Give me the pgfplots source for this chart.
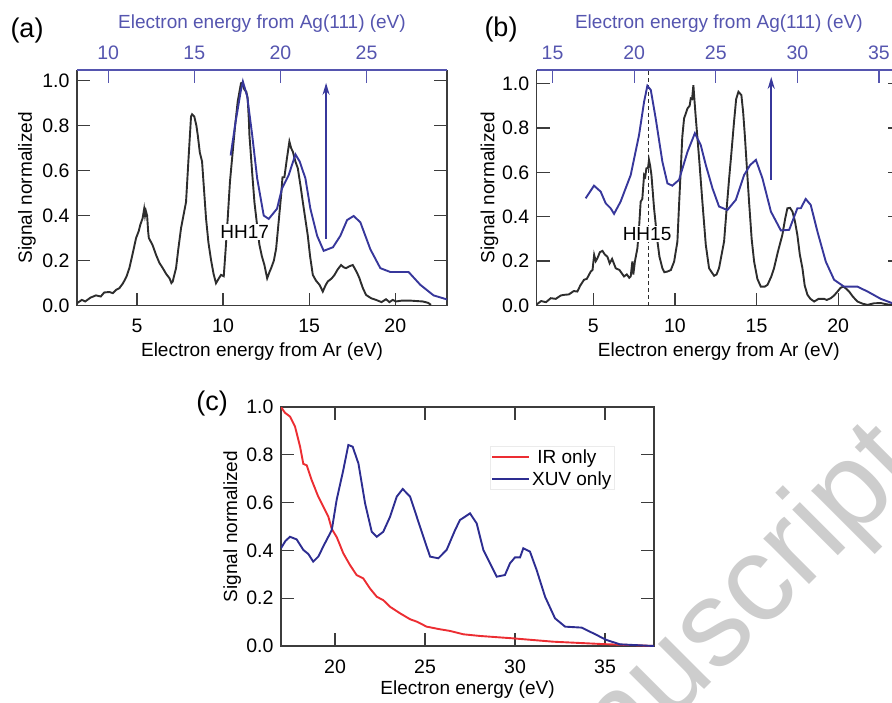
\documentclass[border=0pt]{standalone}
\usepackage{fontspec}
\setmainfont{Liberation Sans}
\usepackage{pgfplots}
\pgfplotsset{compat=1.18}
\usetikzlibrary{arrows.meta}

\definecolor{curveblack}{RGB}{45,45,45}
\definecolor{axisgray}{RGB}{60,60,60}
\definecolor{agblue}{RGB}{85,85,175}
\definecolor{curveblue}{RGB}{55,55,155}
\definecolor{xuvblue}{RGB}{45,45,145}
\definecolor{irred}{RGB}{236,45,50}
\definecolor{wmgray}{RGB}{205,205,205}

\newcommand{\fnt}{\fontsize{19}{22}\selectfont}
\newcommand{\tfnt}{\fontsize{19.5}{22}\selectfont}

\pgfplotsset{
  panel/.style={
    scale only axis,
    anchor=north west,
    tick align=inside,
    major tick length=13pt,
    axis line style={axisgray, line width=1.3pt},
    tick style={axisgray, line width=1.3pt},
    tick label style={font=\tfnt},
    label style={font=\fnt},
    xticklabel style={yshift=-10pt},
    /pgf/number format/assume math mode=true,
    ymin=0,
    ytick={0,0.2,0.4,0.6,0.8,1},
    yticklabel style={xshift=-4pt, /pgf/number format/fixed, /pgf/number format/fixed zerofill, /pgf/number format/precision=1},
  },
  agaxis/.style={
    scale only axis,
    anchor=north west,
    tick align=inside,
    major tick length=13pt,
    axis x line*=top,
    axis y line=none,
    ytick=\empty,
    ymin=0,
    axis line style={agblue, line width=1.1pt},
    tick style={agblue, line width=1.1pt},
    tick label style={font=\tfnt, text=agblue},
    xticklabel style={yshift=7pt},
    label style={font=\fnt, text=agblue},
    /pgf/number format/assume math mode=true,
  },
  blk/.style={curveblack, line width=1.9pt},
  blu/.style={curveblue, line width=1.9pt},
  arr/.style={curveblue, line width=2pt, -{Stealth[length=12pt, width=7pt]}},
  longlegend/.style={legend image code/.code={\draw[##1, line width=2pt] (0pt,0pt) -- (37pt,0pt);}},
}

\begin{document}
\begin{tikzpicture}
\useasboundingbox (0,0) rectangle (892pt,-702pt);

% watermark
\node[wmgray, rotate=45, anchor=base east, font=\fontsize{122}{122}\selectfont] at (926pt,-468pt) {Manuscript};

% ---------------- (a) ----------------
\begin{axis}[panel, at={(77pt,-70pt)}, width=370pt, height=235.5pt,
  xmin=1.52, xmax=23.0, ymax=1.047,
  axis x line*=bottom, axis y line*=box,
  xtick={5,10,15,20},
  xlabel={Electron energy from Ar (eV)},
  ylabel={Signal normalized},
  xlabel style={at={(axis description cs:0.5,-0.195)}, anchor=center},
  ylabel style={at={(axis description cs:-0.135,0.5)}, anchor=center},
]
\addplot[blk] coordinates {
(1.52,0.010) (1.8,0.025) (2.0,0.018) (2.3,0.035) (2.62,0.045) (2.9,0.040) (3.1,0.058)
(3.4,0.060) (3.6,0.055) (3.8,0.070) (3.98,0.077) (4.2,0.10) (4.4,0.13) (4.56,0.166)
(4.75,0.23) (4.95,0.30) (5.1,0.33) (5.2,0.36) (5.33,0.388) (5.42,0.43) (5.47,0.40)
(5.52,0.42) (5.59,0.40) (5.65,0.33) (5.69,0.30) (5.9,0.27) (6.11,0.225) (6.3,0.19)
(6.50,0.166) (6.7,0.14) (6.89,0.121) (7.0,0.10) (7.08,0.107) (7.15,0.13) (7.27,0.166)
(7.4,0.25) (7.56,0.344) (7.7,0.40) (7.85,0.46) (8.0,0.66) (8.14,0.84) (8.2,0.85)
(8.33,0.84) (8.45,0.80) (8.53,0.758) (8.65,0.68) (8.78,0.64) (9.01,0.388) (9.15,0.28)
(9.30,0.203) (9.45,0.14) (9.59,0.099) (9.75,0.12) (9.88,0.136) (10.04,0.13) (10.15,0.25)
(10.27,0.388) (10.4,0.55) (10.56,0.684) (10.7,0.80) (10.85,0.907) (11.04,0.988) (11.1,0.99)
(11.24,0.96) (11.35,0.95) (11.43,0.92) (11.5,0.82) (11.53,0.758) (11.68,0.60) (11.82,0.46)
(12.0,0.34) (12.11,0.27) (12.25,0.22) (12.40,0.18) (12.56,0.121) (12.7,0.15) (12.79,0.166)
(12.95,0.20) (13.08,0.253) (13.2,0.35) (13.37,0.49) (13.45,0.57) (13.56,0.57) (13.7,0.65)
(13.85,0.729) (13.95,0.70) (14.05,0.684) (14.2,0.64) (14.34,0.61) (14.5,0.53) (14.63,0.46)
(14.92,0.31) (15.05,0.22) (15.21,0.136) (15.40,0.11) (15.60,0.092) (15.79,0.062) (15.95,0.09)
(16.08,0.107) (16.3,0.12) (16.47,0.136) (16.65,0.16) (16.85,0.18) (17.0,0.17) (17.14,0.166)
(17.35,0.175) (17.53,0.18) (17.75,0.15) (17.92,0.121) (18.1,0.08) (18.30,0.047) (18.6,0.032)
(18.88,0.025) (19.2,0.015) (19.46,0.028) (19.66,0.015) (19.85,0.025) (20.04,0.018) (20.4,0.022)
(20.82,0.022) (21.2,0.020) (21.59,0.018) (21.9,0.012) (22.07,0.003)
};
\node[fill=white, inner sep=1.5pt, font=\fnt] at (axis cs:11.25,0.328) {HH17};
\end{axis}
\begin{axis}[agaxis, at={(77pt,-70pt)}, width=370pt, height=235.5pt,
  xmin=8.19, xmax=29.67, ymax=1.047,
  xtick={10,15,20,25},
  xlabel={Electron energy from Ag(111) (eV)},
  xlabel style={at={(axis description cs:0.5,1.195)}, anchor=center},
]
\addplot[blu] coordinates {
(17.11,0.667) (17.40,0.818) (17.69,0.95) (17.82,0.996) (18.07,0.93) (18.36,0.758) (18.65,0.565)
(19.03,0.40) (19.32,0.385) (19.80,0.43) (20.09,0.52) (20.48,0.58) (20.87,0.672) (21.12,0.64)
(21.45,0.565) (21.74,0.43) (22.13,0.31) (22.51,0.243) (23.05,0.259) (23.48,0.31) (23.87,0.38)
(24.25,0.398) (24.64,0.37) (25.22,0.25) (25.80,0.166) (26.38,0.149) (27.44,0.149) (28.12,0.092)
(28.89,0.045) (29.67,0.027)
};
\addplot[arr] coordinates {(22.65,0.296) (22.65,0.99)};
\end{axis}

% ---------------- (b) ----------------
\begin{axis}[panel, at={(536.7pt,-70pt)}, width=364.3pt, height=235.5pt,
  xmin=1.53, xmax=23.85, ymax=1.061,
  axis x line*=bottom, axis y line*=box,
  xtick={5,10,15,20},
  xlabel={Electron energy from Ar (eV)},
  ylabel={Signal normalized},
  xlabel style={at={(axis description cs:0.5,-0.195)}, anchor=center},
  ylabel style={at={(axis description cs:-0.13,0.5)}, anchor=center},
]
\addplot[blk] coordinates {
(1.53,0.005) (1.8,0.02) (2.1,0.015) (2.39,0.033) (2.7,0.03) (3.0,0.045) (3.21,0.048) (3.5,0.05)
(3.8,0.065) (4.02,0.063) (4.2,0.09) (4.43,0.116) (4.6,0.12) (4.84,0.153) (4.95,0.16) (5.05,0.228)
(5.15,0.20) (5.25,0.213) (5.4,0.24) (5.56,0.246) (5.7,0.23) (5.86,0.22) (6.0,0.19) (6.15,0.21)
(6.37,0.168) (6.6,0.16) (6.88,0.131) (7.05,0.14) (7.2,0.125) (7.29,0.131) (7.39,0.198) (7.45,0.14)
(7.55,0.20) (7.70,0.258) (7.80,0.35) (7.90,0.468) (8.0,0.48) (8.11,0.588) (8.18,0.58) (8.25,0.618)
(8.35,0.62) (8.41,0.656) (8.48,0.63) (8.56,0.588) (8.72,0.438) (8.93,0.288) (9.05,0.22) (9.23,0.168)
(9.35,0.15) (9.54,0.153) (9.75,0.16) (9.95,0.198) (10.15,0.288) (10.25,0.45) (10.36,0.618)
(10.45,0.76) (10.56,0.843) (10.77,0.888) (10.9,0.90) (10.97,0.933) (11.05,0.93) (11.13,0.993)
(11.2,0.92) (11.28,0.843) (11.48,0.663) (11.68,0.468) (11.89,0.273) (12.09,0.168) (12.25,0.15)
(12.40,0.134) (12.55,0.14) (12.70,0.168) (13.01,0.288) (13.15,0.42) (13.32,0.573) (13.45,0.68)
(13.62,0.828) (13.75,0.93) (13.89,0.963) (14.07,0.948) (14.18,0.87) (14.28,0.768) (14.54,0.468)
(14.7,0.30) (14.85,0.198) (15.05,0.12) (15.26,0.085) (15.5,0.085) (15.67,0.093) (15.9,0.13)
(16.07,0.168) (16.3,0.24) (16.58,0.318) (16.75,0.39) (16.89,0.438) (17.05,0.44) (17.20,0.423)
(17.35,0.38) (17.50,0.318) (17.65,0.23) (17.81,0.168) (17.95,0.09) (18.12,0.048) (18.3,0.03)
(18.53,0.018) (18.8,0.03) (19.14,0.03) (19.3,0.025) (19.55,0.033) (19.75,0.045) (19.96,0.063)
(20.15,0.08) (20.33,0.085) (20.5,0.075) (20.67,0.063) (20.9,0.04) (21.18,0.018) (21.5,0.008)
(21.80,0.003) (22.2,0.01) (22.61,0.011) (23.0,0.005) (23.85,0.0)
};
\addplot[curveblack, line width=1pt, dash pattern=on 4pt off 3pt] coordinates {(8.36,0) (8.36,1.061)};
\node[fill=white, inner sep=1.5pt, font=\fnt] at (axis cs:8.29,0.323) {HH15};
\end{axis}
\begin{axis}[agaxis, at={(536.7pt,-70pt)}, width=364.3pt, height=235.5pt,
  xmin=14.03, xmax=36.35, ymax=1.061,
  xtick={15,20,25,30,35},
  xlabel={Electron energy from Ag(111) (eV)},
  xlabel style={at={(axis description cs:0.5,1.195)}, anchor=center},
]
\addplot[blu] coordinates {
(17.03,0.483) (17.54,0.54) (17.95,0.513) (18.26,0.46) (18.56,0.438) (18.77,0.413) (19.17,0.468)
(19.79,0.588) (20.30,0.768) (20.61,0.918) (20.81,0.99) (21.02,0.971) (21.32,0.843) (21.73,0.648)
(22.04,0.55) (22.34,0.54) (22.75,0.566) (23.27,0.693) (23.72,0.776) (24.08,0.723) (24.39,0.633)
(24.80,0.528) (25.20,0.446) (25.71,0.43) (26.23,0.476) (26.74,0.588) (27.11,0.633) (27.46,0.656)
(27.86,0.573) (28.38,0.423) (28.99,0.338) (29.50,0.341) (30.00,0.438) (30.21,0.438) (30.51,0.48)
(30.82,0.453) (31.23,0.333) (31.74,0.198) (32.25,0.116) (32.86,0.085) (33.68,0.085) (34.30,0.063)
(35.11,0.03) (35.80,0.011) (36.35,0.005)
};
\addplot[arr] coordinates {(28.4,0.566) (28.4,1.03)};
\end{axis}

% ---------------- (c) ----------------
\begin{axis}[panel, at={(281pt,-407pt)}, width=373pt, height=239pt,
  xmin=17, xmax=37.72, ymax=1,
  xtick={20,25,30,35},
  xlabel={Electron energy (eV)},
  ylabel={Signal normalized},
  xlabel style={at={(axis description cs:0.5,-0.184)}, anchor=center},
  ylabel style={at={(axis description cs:-0.131,0.5)}, anchor=center},
  longlegend,
  legend style={at={(axis description cs:0.56,0.835)}, anchor=north west,
    draw=black!8, fill=white, inner sep=1pt, font=\fnt, row sep=2.5pt},
  legend cell align=left,
]
\addplot[irred, line width=1.9pt] coordinates {
(17.0,1.0) (17.22,0.976) (17.5,0.96) (17.78,0.918) (18.06,0.834) (18.24,0.762) (18.43,0.756)
(18.70,0.695) (19.07,0.625) (19.35,0.583) (19.63,0.541) (19.82,0.49) (20.1,0.455) (20.46,0.388)
(20.83,0.339) (21.2,0.297) (21.57,0.283) (21.94,0.241) (22.32,0.206) (22.68,0.192) (23.06,0.164)
(23.61,0.137) (24.17,0.112) (24.54,0.102) (25.09,0.081) (25.83,0.07) (26.39,0.063) (27.13,0.049)
(28.06,0.042) (29.9,0.032) (32.13,0.018) (34.9,0.008) (36.4,0.004) (37.72,0.0)
};
\addlegendentry{\ IR only}
\addplot[xuvblue, line width=1.9pt] coordinates {
(17.0,0.409) (17.25,0.44) (17.5,0.457) (17.87,0.446) (18.24,0.402) (18.52,0.385) (18.79,0.353)
(19.07,0.374) (19.44,0.43) (19.82,0.485) (20.09,0.611) (20.46,0.736) (20.74,0.841) (20.98,0.834)
(21.30,0.764) (21.67,0.597) (22.04,0.478) (22.32,0.457) (22.68,0.478) (23.06,0.541) (23.43,0.625)
(23.76,0.657) (24.17,0.625) (24.54,0.541) (24.91,0.457) (25.28,0.374) (25.74,0.367) (26.2,0.402)
(26.67,0.485) (26.94,0.527) (27.5,0.555) (27.87,0.513) (28.24,0.402) (28.61,0.346) (28.98,0.29)
(29.44,0.297) (29.72,0.346) (30.0,0.371) (30.28,0.371) (30.46,0.409) (30.83,0.395) (31.2,0.318)
(31.67,0.206) (32.22,0.116) (32.78,0.081) (33.7,0.077) (34.35,0.053) (35.09,0.025) (35.83,0.007)
(37.72,0.0)
};
\addlegendentry{XUV only}
\end{axis}

% panel labels
\node[font=\fontsize{27}{30}\selectfont] at (27pt,-31pt) {(a)};
\node[font=\fontsize{27}{30}\selectfont] at (501pt,-30pt) {(b)};
\node[font=\fontsize{27}{30}\selectfont] at (212pt,-404pt) {(c)};
\end{tikzpicture}
\end{document}
